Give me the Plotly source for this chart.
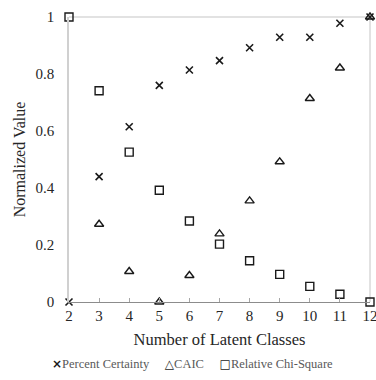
import plotly.graph_objects as go

classes = [2, 3, 4, 5, 6, 7, 8, 9, 10, 11, 12]
percent_certainty = [0, 0.44, 0.615, 0.76, 0.814, 0.847, 0.892, 0.929, 0.929, 0.978, 1.0]
caic = [None, 0.273, 0.107, 0.0, 0.093, 0.239, 0.355, 0.492, 0.714, 0.821, 1.0]
rel_chi_square = [1.0, 0.741, 0.526, 0.392, 0.284, 0.203, 0.145, 0.097, 0.055, 0.027, 0.0]
y_ticks = [0, 0.2, 0.4, 0.6, 0.8, 1]
y_tick_text = ["0", "0.2", "0.4", "0.6", "0.8", "1"]
series_names = ["Percent Certainty", "CAIC", "Relative Chi-Square"]
legend_glyphs = ["×", "△", "□"]

FONT = "Liberation Serif"
INK = "#1a1a1a"
fig = go.Figure()
fig.add_trace(go.Scatter(x=classes, y=percent_certainty, mode="markers", name=series_names[0],
                         cliponaxis=False, showlegend=False,
                         marker=dict(symbol="x-thin-open", size=7, line=dict(width=1.6, color=INK), color=INK)))
fig.add_trace(go.Scatter(x=classes, y=caic, mode="markers", name=series_names[1],
                         cliponaxis=False, showlegend=False,
                         marker=dict(symbol="triangle-up-open", size=8, line=dict(width=1.4, color=INK), color=INK)))
fig.add_trace(go.Scatter(x=classes, y=rel_chi_square, mode="markers", name=series_names[2],
                         cliponaxis=False, showlegend=False,
                         marker=dict(symbol="square-open", size=8, line=dict(width=1.4, color=INK), color=INK)))

legend_text = "&nbsp;&nbsp;&nbsp;&nbsp;&nbsp;".join(
    f'<span style="color:{INK};font-family:DejaVu Sans;font-size:12px;font-weight:bold">{g}</span>{n}'
    for g, n in zip(legend_glyphs, series_names)
)

fig.update_layout(
    width=376, height=380,
    margin=dict(l=69, r=6, t=17, b=78, autoexpand=False),
    paper_bgcolor="white", plot_bgcolor="white",
    font=dict(family=FONT, color="#262626"),
    showlegend=False,
    annotations=[dict(text=legend_text, xref="paper", yref="paper", x=0.41, y=-0.218,
                      xanchor="center", yanchor="middle", showarrow=False,
                      font=dict(family=FONT, size=12.5, color="#595959"))],
    xaxis=dict(range=[2, 12], tickmode="array", tickvals=classes, showgrid=False, zeroline=False,
               showline=True, linecolor="#8c8c8c", linewidth=1, automargin=False,
               ticks="inside", ticklen=4, tickcolor="#a6a6a6", ticklabeloverflow="allow",
               tickfont=dict(family=FONT, size=15, color="#262626"),
               title=dict(text="Number of Latent Classes", font=dict(family=FONT, size=16.5, color="#262626"), standoff=10)),
    yaxis=dict(range=[0, 1], tickmode="array", tickvals=y_ticks, ticktext=y_tick_text,
               showgrid=False, zeroline=False, showline=True, linecolor="#d0d0d0", linewidth=1.5,
               ticks="", ticklabelstandoff=10, automargin=False,
               tickfont=dict(family=FONT, size=15, color="#262626"),
               title=dict(text="Normalized Value", font=dict(family=FONT, size=16, color="#262626"), standoff=6)),
    shapes=[
        dict(type="line", xref="paper", yref="paper", x0=0, x1=1, y0=1, y1=1, line=dict(color="#d9d9d9", width=1.5), layer="below"),
        dict(type="line", xref="paper", yref="paper", x0=1, x1=1, y0=0, y1=1, line=dict(color="#d9d9d9", width=1.5), layer="below"),
    ],
)
fig.write_html("out.html")
